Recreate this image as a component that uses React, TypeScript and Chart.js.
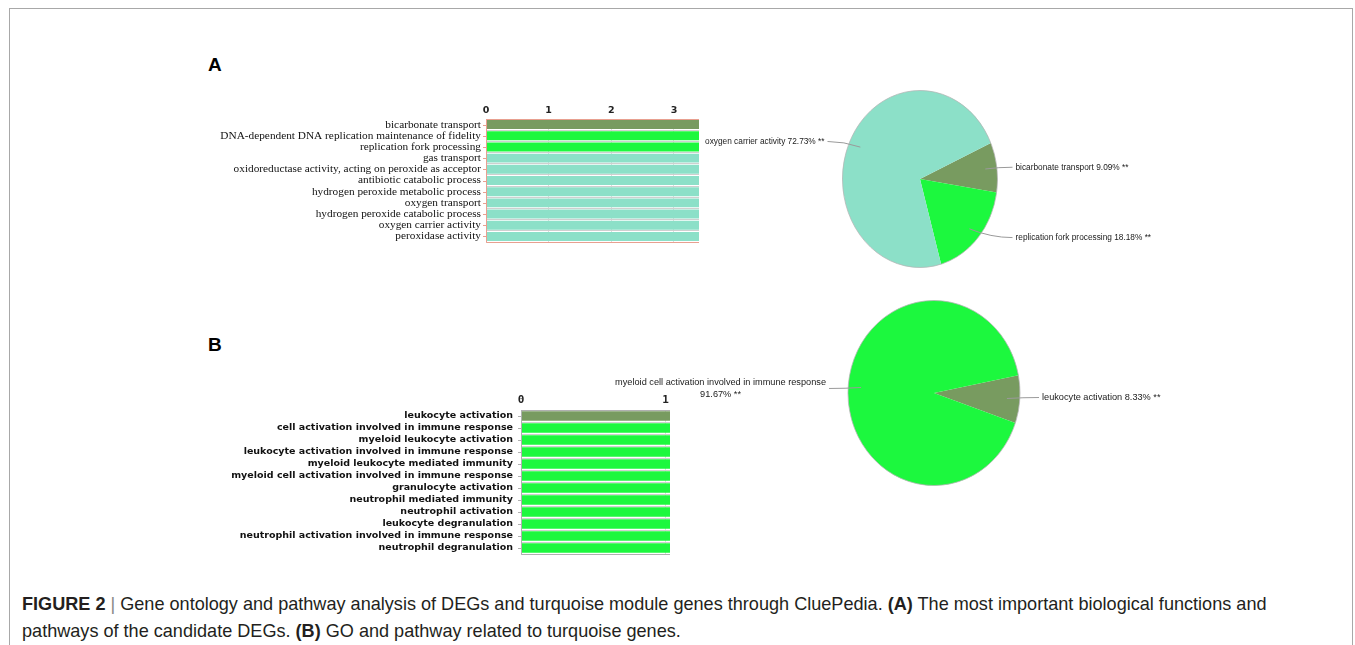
import React, { useEffect, useRef } from "react";
import { Chart, registerables } from "chart.js";

Chart.register(...registerables);

// ---------------- DATA ----------------
const termsA = [
  "bicarbonate transport",
  "DNA-dependent DNA replication maintenance of fidelity",
  "replication fork processing",
  "gas transport",
  "oxidoreductase activity, acting on peroxide as acceptor",
  "antibiotic catabolic process",
  "hydrogen peroxide metabolic process",
  "oxygen transport",
  "hydrogen peroxide catabolic process",
  "oxygen carrier activity",
  "peroxidase activity",
];
const valuesA = [3.4, 3.4, 3.4, 3.4, 3.4, 3.4, 3.4, 3.4, 3.4, 3.4, 3.4];
const groupsA = ["olive", "green", "green", "teal", "teal", "teal", "teal", "teal", "teal", "teal", "teal"];
const ticksA = [0, 1, 2, 3];

const pieLabelsA = ["bicarbonate transport", "replication fork processing", "oxygen carrier activity"];
const pieValuesA = [1, 2, 8];
const pieGroupsA = ["olive", "green", "teal"];

const termsB = [
  "leukocyte activation",
  "cell activation involved in immune response",
  "myeloid leukocyte activation",
  "leukocyte activation involved in immune response",
  "myeloid leukocyte mediated immunity",
  "myeloid cell activation involved in immune response",
  "granulocyte activation",
  "neutrophil mediated immunity",
  "neutrophil activation",
  "leukocyte degranulation",
  "neutrophil activation involved in immune response",
  "neutrophil degranulation",
];
const valuesB = [1.03, 1.03, 1.03, 1.03, 1.03, 1.03, 1.03, 1.03, 1.03, 1.03, 1.03, 1.03];
const groupsB = ["olive", "green", "green", "green", "green", "green", "green", "green", "green", "green", "green", "green"];
const ticksB = [0, 1];

const pieLabelsB = ["leukocyte activation", "myeloid cell activation involved in immune response"];
const pieValuesB = [1, 11];
const pieGroupsB = ["olive", "green"];

// ---------------- STYLE ----------------
const COLORS: Record<string, string> = {
  olive: "#789b60",
  green: "#1cf83e",
  teal: "#8ce0c8",
};

const barDecor = {
  id: "barDecor",
  afterDatasetsDraw(chart: any, _args: any, opts: any) {
    const { ctx, chartArea: a } = chart;
    const y = chart.scales.y;
    ctx.save();
    ctx.strokeStyle = opts.color;
    ctx.lineWidth = 1;
    ctx.beginPath();
    ctx.moveTo(a.left + 0.5, a.top);
    ctx.lineTo(a.left + 0.5, a.bottom + 0.5);
    ctx.lineTo(a.right, a.bottom + 0.5);
    ctx.moveTo(a.left, a.top + 0.5);
    ctx.lineTo(a.right, a.top + 0.5);
    y.ticks.forEach((_t: any, i: number) => {
      const py = Math.round(y.getPixelForTick(i)) + 0.5;
      ctx.moveTo(a.left - 3, py);
      ctx.lineTo(a.left, py);
    });
    ctx.stroke();
    ctx.restore();
  },
};

const pieDecor = {
  id: "pieDecor",
  beforeDatasetsDraw(chart: any, _args: any, opts: any) {
    const el = chart.getDatasetMeta(0).data[0];
    const ctx = chart.ctx;
    ctx.save();
    ctx.translate(el.x, el.y);
    ctx.scale(opts.sx, 1);
    ctx.translate(-el.x, -el.y);
  },
  afterDatasetsDraw(chart: any, _args: any, opts: any) {
    const ctx = chart.ctx;
    const meta = chart.getDatasetMeta(0);
    const el0 = meta.data[0];
    ctx.beginPath();
    ctx.arc(el0.x, el0.y, el0.outerRadius, 0, Math.PI * 2);
    ctx.lineWidth = 1;
    ctx.strokeStyle = "rgba(180,180,180,0.8)";
    ctx.stroke();
    ctx.restore();

    const data: number[] = chart.data.datasets[0].data;
    const labels: string[] = chart.data.labels;
    const total = data.reduce((s, v) => s + v, 0);
    ctx.save();
    ctx.font = opts.font;
    ctx.fillStyle = "#1a1a1a";
    ctx.textBaseline = "middle";
    meta.data.forEach((el: any, i: number) => {
      const mid = (el.startAngle + el.endAngle) / 2;
      const r = el.outerRadius;
      const rx = r * opts.sx;
      const ax = el.x + Math.cos(mid) * rx * 0.85;
      const ay = el.y + Math.sin(mid) * r * 0.85;
      const side = Math.cos(mid) >= 0 ? 1 : -1;
      const ly = el.y + Math.sin(mid) * r * opts.labelR;
      const lx = el.x + side * (rx + opts.gap);
      const pct = ((data[i] / total) * 100).toFixed(2) + "% **";
      const full = labels[i] + " " + pct;
      let lines = [full];
      if (ctx.measureText(full).width > opts.maxWidth) lines = [labels[i], pct];
      const bw = Math.max(...lines.map((l) => ctx.measureText(l).width));
      const lh = opts.lineHeight;
      const startY = ly - ((lines.length - 1) * lh) / 2;
      lines.forEach((l, k) => {
        const w = ctx.measureText(l).width;
        let tx;
        if (lines.length === 1) tx = side > 0 ? lx : lx - w;
        else tx = side > 0 ? lx + (bw - w) / 2 : lx - bw + (bw - w) / 2;
        ctx.textAlign = "left";
        ctx.fillText(l, tx, startY + k * lh);
      });
      const ex = lx - side * 3;
      ctx.beginPath();
      ctx.moveTo(ex, ly);
      ctx.quadraticCurveTo((ex + ax) / 2, ly, ax, ay);
      ctx.strokeStyle = "#9a9a9a";
      ctx.lineWidth = 1;
      ctx.stroke();
    });
    ctx.restore();
  },
};

type BarProps = {
  left: number; top: number; width: number; height: number;
  labels: string[]; values: number[]; groups: string[]; tickValues: number[];
  axisW: number; axisH: number; padBottom: number; labelPad: number;
  labelFont: { family: string; size: number; weight?: string };
  tickFont: { family: string; size: number; weight?: string };
  frame: string;
};

function BarPanel(p: BarProps) {
  const ref = useRef<HTMLCanvasElement>(null);
  useEffect(() => {
    const chart = new Chart(ref.current!, {
      type: "bar",
      data: {
        labels: p.labels,
        datasets: [{
          data: p.values,
          backgroundColor: p.groups.map((g) => COLORS[g]),
          borderWidth: 0,
          barPercentage: 0.8,
          categoryPercentage: 1,
        }],
      },
      plugins: [barDecor as any],
      options: {
        responsive: false,
        animation: false,
        indexAxis: "y",
        layout: { padding: { top: 0, right: 1, bottom: p.padBottom, left: 0 } },
        plugins: {
          legend: { display: false },
          tooltip: { enabled: false },
          barDecor: { color: p.frame },
        } as any,
        scales: {
          x: {
            position: "top",
            min: 0,
            max: Math.max(...p.values),
            afterBuildTicks: (s: any) => { s.ticks = p.tickValues.map((v) => ({ value: v })); },
            afterFit: (s: any) => { s.height = p.axisH; s.paddingLeft = 0; s.paddingRight = 0; },
            grid: { color: "#dcdcdc", drawTicks: false },
            border: { display: false },
            ticks: { padding: 3, color: "#222", font: p.tickFont as any },
          },
          y: {
            afterFit: (s: any) => { s.width = p.axisW; s.paddingTop = 0; s.paddingBottom = 0; },
            grid: { offset: true, color: "#cfcfcf", drawTicks: false },
            border: { display: false },
            ticks: { padding: p.labelPad, color: "#111", font: p.labelFont as any, autoSkip: false },
          },
        },
      },
    });
    return () => chart.destroy();
  }, []);
  return (
    <div style={{ position: "absolute", left: p.left, top: p.top, width: p.width, height: p.height }}>
      <canvas ref={ref} width={p.width} height={p.height} style={{ display: "block" }} />
    </div>
  );
}

type PieProps = {
  left: number; top: number; width: number; height: number;
  labels: string[]; values: number[]; groups: string[];
  padding: { left: number; right: number; top: number; bottom: number };
  radius: number; sx: number; rotation: number; gap: number; labelR: number; fontSize: number;
};

function PiePanel(p: PieProps) {
  const ref = useRef<HTMLCanvasElement>(null);
  useEffect(() => {
    const chart = new Chart(ref.current!, {
      type: "pie",
      data: {
        labels: p.labels,
        datasets: [{
          data: p.values,
          backgroundColor: p.groups.map((g) => COLORS[g]),
          borderWidth: 0,
          clip: false as any,
        }],
      },
      plugins: [pieDecor as any],
      options: {
        responsive: false,
        animation: false,
        rotation: p.rotation,
        radius: p.radius,
        layout: { padding: p.padding },
        plugins: {
          legend: { display: false },
          tooltip: { enabled: false },
          pieDecor: {
            sx: p.sx, gap: p.gap, labelR: p.labelR,
            font: `${p.fontSize}px "Liberation Sans", Arial, sans-serif`,
            maxWidth: 200, lineHeight: 12,
          },
        } as any,
      } as any,
    });
    return () => chart.destroy();
  }, []);
  return (
    <div style={{ position: "absolute", left: p.left, top: p.top, width: p.width, height: p.height }}>
      <canvas ref={ref} width={p.width} height={p.height} style={{ display: "block" }} />
    </div>
  );
}

export default function App() {
  return (
    <div style={{ position: "absolute", left: 0, top: 0, width: 1355, height: 645, background: "#fff", overflow: "hidden" }}>
      <div style={{ position: "absolute", left: 9, top: 8, width: 1344, height: 700, border: "1px solid #a8a8a8", boxSizing: "border-box" }} />
      <div style={{ position: "absolute", left: 208, top: 54, font: 'bold 19px "Liberation Sans", Arial, sans-serif', color: "#000" }}>A</div>
      <div style={{ position: "absolute", left: 208, top: 334, font: 'bold 19px "Liberation Sans", Arial, sans-serif', color: "#000" }}>B</div>

      <BarPanel
        left={200} top={100} width={500} height={145}
        labels={termsA} values={valuesA} groups={groupsA} tickValues={ticksA}
        axisW={286} axisH={19} padBottom={3} labelPad={5}
        labelFont={{ family: '"Liberation Serif", serif', size: 11.3 }}
        tickFont={{ family: '"DejaVu Sans", sans-serif', size: 9.5, weight: "bold" }}
        frame="#e8a090"
      />
      <PiePanel
        left={640} top={80} width={600} height={200}
        labels={pieLabelsA} values={pieValuesA} groups={pieGroupsA}
        padding={{ left: 0, right: 40, top: 0, bottom: 2 }}
        radius={88.5} sx={77.5 / 88.5} rotation={66} gap={18} labelR={1.0} fontSize={8.3}
      />

      <BarPanel
        left={200} top={390} width={471} height={166}
        labels={termsB} values={valuesB} groups={groupsB} tickValues={ticksB}
        axisW={321} axisH={20} padBottom={2} labelPad={8}
        labelFont={{ family: '"DejaVu Sans", sans-serif', size: 9.5, weight: "bold" }}
        tickFont={{ family: '"DejaVu Sans Mono", monospace', size: 11, weight: "bold" }}
        frame="#b0b0b0"
      />
      <PiePanel
        left={600} top={290} width={600} height={210}
        labels={pieLabelsB} values={pieValuesB} groups={pieGroupsB}
        padding={{ left: 68, right: 0, top: 0, bottom: 4 }}
        radius={92.5} sx={86 / 92.5} rotation={79} gap={22} labelR={0.7} fontSize={9.2}
      />

      <div style={{ position: "absolute", left: 22, top: 591, width: 1320, font: '18.1px/27px "Liberation Sans", Arial, sans-serif', color: "#231f20" }}>
        <b>FIGURE 2</b> <span style={{ color: "#888" }}>|</span> Gene ontology and pathway analysis of DEGs and turquoise module genes through CluePedia. <b>(A)</b> The most important biological functions and
        <br />
        pathways of the candidate DEGs. <b>(B)</b> GO and pathway related to turquoise genes.
      </div>
    </div>
  );
}
